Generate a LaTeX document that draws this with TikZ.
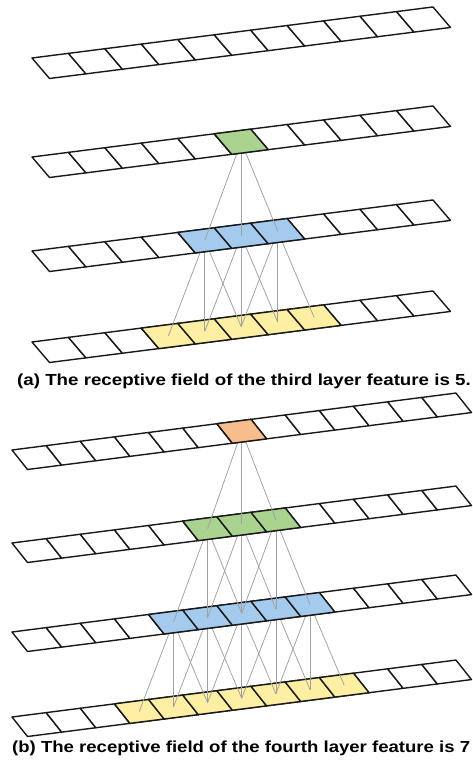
\documentclass[tikz,border=0pt]{standalone}
\usepackage{fontspec}
\setmainfont{Liberation Sans}

\definecolor{cellgreen}{RGB}{169,211,142}
\definecolor{cellblue}{RGB}{164,202,238}
\definecolor{cellyellow}{RGB}{255,239,162}
\definecolor{cellorange}{RGB}{248,189,140}
\definecolor{edge}{RGB}{25,25,25}
\definecolor{wire}{RGB}{160,160,160}

\tikzset{
  cell/.style={draw=edge, line width=1.4pt, line join=round},
  link/.style={draw=wire, line width=0.75pt},
  caption/.style={anchor=base west, inner sep=0pt},
  % frame of one strip: origin (top-left corner), cell step and slant
  frameA/.style={shift={(32pt,-#1pt)}, x={(36.45pt,4.64pt)}, y={(17.5pt,-20.5pt)}},
  frameB/.style={shift={(12pt,-#1pt)}, x={(34.15pt,4.38pt)}, y={(15.5pt,-19.5pt)}},
}

% named centres of the cells of a strip
\newcommand\stripcentres[3]{%
  \begin{scope}[#1]
    \foreach \i in {0,...,#3} \coordinate (#2-\i) at (\i+0.5,0.5);
  \end{scope}}

% the cells of a strip, with the coloured ones given as index/colour
\newcommand\stripcells[3]{%
  \begin{scope}[#1]
    \foreach \i in {0,...,#2}
      \path[cell, fill=white] (\i,0) -- ++(1,0) -- ++(0,1) -- ++(-1,0) -- cycle;
    \foreach \i/\c in {#3}
      \path[cell, fill=\c] (\i,0) -- ++(1,0) -- ++(0,1) -- ++(-1,0) -- cycle;
  \end{scope}}

% each cell in #2 linked to its three neighbours below in #3
\newcommand\fanout[3]{%
  \foreach \s in {#1} \foreach \d in {-1,0,1} {%
    \pgfmathtruncatemacro\t{\s+\d}
    \draw[link] (#2-\s) -- (#3-\t);
  }}

\begin{document}
\begin{tikzpicture}[x=1pt, y=-1pt]
\useasboundingbox (0,0) rectangle (473,762);

% ---------- (a) three-layer stack ----------
\stripcentres{frameA=58}{a1}{10}
\stripcentres{frameA=157}{a2}{10}
\stripcentres{frameA=251}{a3}{10}
\stripcentres{frameA=342}{a4}{10}

\stripcells{frameA=342}{10}{3/cellyellow,4/cellyellow,5/cellyellow,6/cellyellow,7/cellyellow}
\fanout{4,5,6}{a3}{a4}
\stripcells{frameA=251}{10}{4/cellblue,5/cellblue,6/cellblue}
\fanout{5}{a2}{a3}
\stripcells{frameA=157}{10}{5/cellgreen}
\stripcells{frameA=58}{10}{}

\node[caption] (capa) at (17,385)
  {\scalebox{1.17}[1]{\fontsize{16}{19}\selectfont\bfseries (a) The receptive field of the third layer feature is 5.}};

% ---------- (b) four-layer stack ----------
\stripcentres{frameB=450}{b1}{12}
\stripcentres{frameB=543}{b2}{12}
\stripcentres{frameB=632}{b3}{12}
\stripcentres{frameB=717}{b4}{12}

\stripcells{frameB=717}{12}{3/cellyellow,4/cellyellow,5/cellyellow,6/cellyellow,7/cellyellow,8/cellyellow,9/cellyellow}
\fanout{4,5,6,7,8}{b3}{b4}
\stripcells{frameB=632}{12}{4/cellblue,5/cellblue,6/cellblue,7/cellblue,8/cellblue}
\fanout{5,6,7}{b2}{b3}
\stripcells{frameB=543}{12}{5/cellgreen,6/cellgreen,7/cellgreen}
\fanout{6}{b1}{b2}
\stripcells{frameB=450}{12}{6/cellorange}

\node[caption] (capb) at (12,752)
  {\scalebox{1.16}[1]{\fontsize{16}{19}\selectfont\bfseries (b) The receptive field of the fourth layer feature is 7}};
\end{tikzpicture}
\end{document}
